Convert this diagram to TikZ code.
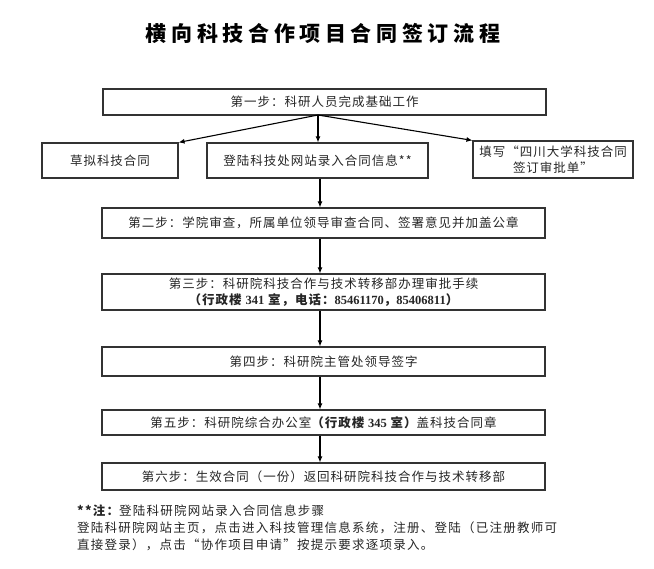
\documentclass[tikz,border=0pt]{standalone}
\usepackage{fontspec}
\setmainfont{Noto Sans CJK SC}
\newfontfamily\numf{Liberation Serif}
\usetikzlibrary{arrows.meta,calc}
\begin{document}
\begin{tikzpicture}[x=1pt,y=-1pt,
  txt/.style={font=\fontsize{12.5}{15.5}\selectfont\addfontfeature{LetterSpace=8}, text=black!85},
  box/.style={txt, draw=black!80, line width=1.1pt, inner sep=0pt, align=center},
  arr/.style={-{Latex[length=6pt,width=5pt]}, line width=1.1pt, draw=black}]
\useasboundingbox (0,0) rectangle (654,569);
\fill[white] (0,0) rectangle (654,569);

\node[font=\fontsize{21}{25}\selectfont\bfseries\addfontfeature{LetterSpace=22}] (title) at (323,33) {横向科技合作项目合同签订流程};

\node[box, minimum width=443pt, minimum height=26pt] (b1) at (324.5,102) {第一步：科研人员完成基础工作};
\node[box, minimum width=136pt, minimum height=35pt] (l) at (110,160.5) {草拟科技合同};
\node[box, minimum width=221pt, minimum height=35pt] (c) at (317.5,160.5) {登陆科技处网站录入合同信息**};
\node[box, minimum width=160pt, minimum height=37pt] (r) at (553,159.5) {填写“四川大学科技合同\\签订审批单”};
\node[box, minimum width=443pt, minimum height=30pt] (b2) at (323.5,223) {第二步：学院审查，所属单位领导审查合同、签署意见并加盖公章};
\node[box, minimum width=443pt, minimum height=36pt] (b3) at (323.5,292) {第三步：科研院科技合作与技术转移部办理审批手续\\{\bfseries （行政楼 {\numf\bfseries 341} 室，电话：{\numf\bfseries 85461170}，{\numf\bfseries 85406811}）}};
\node[box, minimum width=443pt, minimum height=29pt] (b4) at (323.5,361.5) {第四步：科研院主管处领导签字};
\node[box, minimum width=443pt, minimum height=25pt] (b5) at (323.5,422.5) {第五步：科研院综合办公室{\bfseries （行政楼 {\numf\bfseries 345} 室）}盖科技合同章};
\node[box, minimum width=443pt, minimum height=27pt] (b6) at (323.5,476.5) {第六步：生效合同（一份）返回科研院科技合作与技术转移部};

\coordinate (fork) at (318,115);
\coordinate (col) at (320,0);
\draw[arr] (fork) -- (l.north east);
\draw[arr] (fork) -- (fork |- c.north);
\draw[arr] (fork) -- (r.north west);
\draw[arr] (c.south -| col) -- (b2.north -| col);
\draw[arr] (b2.south -| col) -- (b3.north -| col);
\draw[arr] (b3.south -| col) -- (b4.north -| col);
\draw[arr] (b4.south -| col) -- (b5.north -| col);
\draw[arr] (b5.south -| col) -- (b6.north -| col);

\node[txt, anchor=north west, align=left, inner sep=0pt, font=\fontsize{12.5}{16.7}\selectfont\addfontfeature{LetterSpace=10}] (note) at (77,505)
 {{\bfseries **注：}登陆科研院网站录入合同信息步骤\\
  登陆科研院网站主页，点击进入科技管理信息系统，注册、登陆（已注册教师可\\
  直接登录），点击“协作项目申请”按提示要求逐项录入。};
\end{tikzpicture}
\end{document}
